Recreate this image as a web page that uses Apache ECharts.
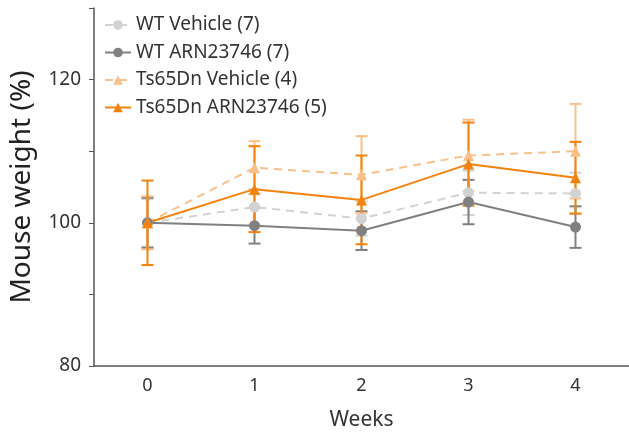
<!DOCTYPE html>
<html>
<head>
<meta charset="utf-8">
<script src="https://cdn.jsdelivr.net/npm/echarts@6/dist/echarts.min.js"></script>
<style>
  html, body { margin: 0; padding: 0; background: #fff; }
  #chart { width: 629px; height: 437px; }
</style>
</head>
<body>
<div id="chart"></div>
<script>
// weeks on the x axis
const weeks = ['0', '1', '2', '3', '4']
// y ticks that carry a label
const yLabels = [80, 100, 120]

// mean weight (%) per group
const wtVehicle = [100, 102.2, 100.6, 104.2, 104.1]
const wtArn = [100, 99.6, 98.9, 102.9, 99.4]
const tsVehicle = [100, 107.7, 106.7, 109.4, 110.0]
const tsArn = [100, 104.7, 103.2, 108.2, 106.3]

// error bar half-widths
const wtVehicleErr = [3.3, 2.5, 2.4, 3.1, 2.9]
const wtArnErr = [3.5, 2.5, 2.7, 3.1, 2.9]
const tsVehicleErr = [3.7, 3.7, 5.4, 5.0, 6.6]
const tsArnErr = [5.9, 6.0, 6.2, 5.8, 5.0]

const groups = [
  { name: 'WT Vehicle (7)', data: wtVehicle, err: wtVehicleErr, color: '#d2d2d2', dashed: true, symbol: 'circle', size: 11 },
  { name: 'WT ARN23746 (7)', data: wtArn, err: wtArnErr, color: '#808080', dashed: false, symbol: 'circle', size: 11 },
  { name: 'Ts65Dn Vehicle (4)', data: tsVehicle, err: tsVehicleErr, color: '#f9c08a', dashed: true, symbol: 'triangle', size: 11 },
  { name: 'Ts65Dn ARN23746 (5)', data: tsArn, err: tsArnErr, color: '#f5820c', dashed: false, symbol: 'triangle', size: 11 },
]

const chart = echarts.init(document.getElementById('chart'))

// vertical bar with caps, drawn through the axis scale
function errorBar (color) {
  return function (params, api) {
    const x = api.value(0)
    const lo = api.coord([x, api.value(1)])
    const hi = api.coord([x, api.value(2)])
    const half = 6
    const style = { stroke: color, lineWidth: 2 }
    return {
      type: 'group',
      children: [
        { type: 'line', shape: { x1: hi[0], y1: hi[1], x2: lo[0], y2: lo[1] }, style: style },
        { type: 'line', shape: { x1: hi[0] - half, y1: hi[1], x2: hi[0] + half, y2: hi[1] }, style: style },
        { type: 'line', shape: { x1: lo[0] - half, y1: lo[1], x2: lo[0] + half, y2: lo[1] }, style: style },
      ],
    }
  }
}

const series = []
groups.forEach(g => {
  series.push({
    type: 'custom',
    name: g.name + ' err',
    renderItem: errorBar(g.color),
    data: g.data.map((v, i) => [i, v - g.err[i], v + g.err[i]]),
    encode: { x: 0, y: [1, 2] },
    silent: true,
  })
  series.push({
    type: 'line',
    name: g.name,
    data: g.data,
    symbol: g.symbol,
    symbolSize: g.size,
    itemStyle: { color: g.color },
    lineStyle: { color: g.color, width: 2, type: g.dashed ? [8, 6] : 'solid' },
  })
})

const axisColor = '#555'
const labelColor = '#333'
const font = '"Noto Sans", Lato, sans-serif'

chart.setOption({
  animation: false,
  textStyle: { fontFamily: font },
  grid: { left: 93, right: 0, top: 8, bottom: 71 },
  legend: {
    data: groups.map(g => g.name),
    orient: 'vertical',
    left: 99,
    top: 10,
    itemWidth: 26,
    itemHeight: 12,
    itemGap: 7.5,
    textStyle: { fontSize: 19, color: labelColor, fontFamily: font, lineHeight: 20 },
  },
  xAxis: {
    type: 'category',
    data: weeks,
    boundaryGap: true,
    name: 'Weeks',
    nameLocation: 'middle',
    nameGap: 44,
    nameTextStyle: { fontSize: 21, color: labelColor },
    axisLine: { lineStyle: { color: axisColor, width: 1.5 } },
    axisTick: { alignWithLabel: true, length: 4, lineStyle: { color: axisColor } },
    axisLabel: { fontSize: 18, color: labelColor, margin: 11 },
    splitLine: { show: false },
  },
  yAxis: {
    type: 'value',
    min: 80,
    max: 130,
    interval: 10,
    name: 'Mouse weight (%)',
    nameLocation: 'middle',
    nameGap: 58,
    nameTextStyle: { fontSize: 28, color: '#222' },
    axisLine: { show: true, lineStyle: { color: axisColor, width: 1.5 } },
    axisTick: { show: true, length: 5, lineStyle: { color: axisColor } },
    axisLabel: {
      fontSize: 19,
      color: labelColor,
      margin: 13,
      formatter: v => (yLabels.indexOf(v) >= 0 ? String(v) : ''),
    },
    splitLine: { show: false },
  },
  series: series,
})
</script>
</body>
</html>
